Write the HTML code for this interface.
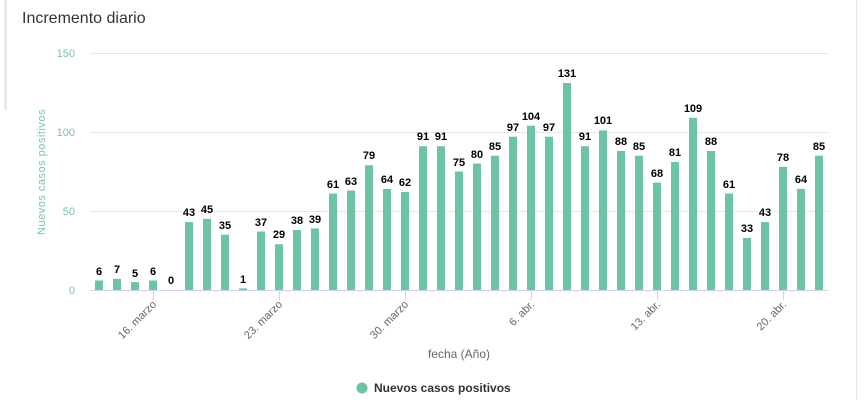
<!DOCTYPE html>
<html><head><meta charset="utf-8"><style>
body{margin:0;background:#fff;width:864px;height:400px;overflow:hidden;font-family:"Liberation Sans",sans-serif}
</style></head><body>
<svg width="864" height="400" xmlns="http://www.w3.org/2000/svg" font-family="Liberation Sans, sans-serif">
<line x1="5.5" y1="0" x2="5.5" y2="110" stroke="#dde3ea" stroke-width="2"/>
<line x1="856.5" y1="0" x2="856.5" y2="400" stroke="#e6e6e6" stroke-width="1"/>
<text x="22" y="23" font-size="16" fill="#333">Incremento diario</text>
<g stroke="#e6e6e6" stroke-width="1">
<line x1="90" y1="53.5" x2="828" y2="53.5"/>
<line x1="90" y1="132.5" x2="828" y2="132.5"/>
<line x1="90" y1="211.5" x2="828" y2="211.5"/>
</g>
<line x1="90" y1="290.5" x2="828" y2="290.5" stroke="#ccd6eb"/>
<g font-size="11" fill="#7cc4a4" text-anchor="end">
<text x="75" y="57">150</text><text x="75" y="136">100</text><text x="75" y="215">50</text><text x="75" y="294">0</text>
</g>
<text transform="translate(45,172) rotate(-90)" font-size="11" fill="#7cc4a4" text-anchor="middle" letter-spacing="0.5">Nuevos casos positivos</text>
<g fill="#6cc4a4">
<rect x="95" y="280.5" width="8" height="9.5"/><rect x="113" y="278.9" width="8" height="11.1"/><rect x="131" y="282.1" width="8" height="7.9"/><rect x="149" y="280.5" width="8" height="9.5"/>
<rect x="185" y="222.1" width="8" height="67.9"/><rect x="203" y="218.9" width="8" height="71.1"/><rect x="221" y="234.7" width="8" height="55.3"/><rect x="239" y="288.4" width="8" height="1.6"/>
<rect x="257" y="231.5" width="8" height="58.5"/><rect x="275" y="244.2" width="8" height="45.8"/><rect x="293" y="230" width="8" height="60"/><rect x="311" y="228.4" width="8" height="61.6"/>
<rect x="329" y="193.6" width="8" height="96.4"/><rect x="347" y="190.5" width="8" height="99.5"/><rect x="365" y="165.2" width="8" height="124.8"/><rect x="383" y="188.9" width="8" height="101.1"/>
<rect x="401" y="192" width="8" height="98"/><rect x="419" y="146.2" width="8" height="143.8"/><rect x="437" y="146.2" width="8" height="143.8"/><rect x="455" y="171.5" width="8" height="118.5"/>
<rect x="473" y="163.6" width="8" height="126.4"/><rect x="491" y="155.7" width="8" height="134.3"/><rect x="509" y="136.7" width="8" height="153.3"/><rect x="527" y="125.7" width="8" height="164.3"/>
<rect x="545" y="136.7" width="8" height="153.3"/><rect x="563" y="83" width="8" height="207"/><rect x="581" y="146.2" width="8" height="143.8"/><rect x="599" y="130.4" width="8" height="159.6"/>
<rect x="617" y="151" width="8" height="139"/><rect x="635" y="155.7" width="8" height="134.3"/><rect x="653" y="182.6" width="8" height="107.4"/><rect x="671" y="162" width="8" height="128"/>
<rect x="689" y="117.8" width="8" height="172.2"/><rect x="707" y="151" width="8" height="139"/><rect x="725" y="193.6" width="8" height="96.4"/><rect x="743" y="237.9" width="8" height="52.1"/>
<rect x="761" y="222.1" width="8" height="67.9"/><rect x="779" y="166.8" width="8" height="123.2"/><rect x="797" y="188.9" width="8" height="101.1"/><rect x="815" y="155.7" width="8" height="134.3"/>
</g>
<g font-size="11" font-weight="bold" fill="#000" text-anchor="middle">
<text x="99" y="275">6</text><text x="117" y="273">7</text><text x="135" y="277">5</text><text x="153" y="275">6</text><text x="171" y="284">0</text>
<text x="189" y="216">43</text><text x="207" y="213">45</text><text x="225" y="229">35</text><text x="243" y="283">1</text>
<text x="261" y="226">37</text><text x="279" y="238">29</text><text x="297" y="224">38</text><text x="315" y="223">39</text>
<text x="333" y="188">61</text><text x="351" y="185">63</text><text x="369" y="159">79</text><text x="387" y="183">64</text>
<text x="405" y="186">62</text><text x="423" y="140">91</text><text x="441" y="140">91</text><text x="459" y="166">75</text>
<text x="477" y="158">80</text><text x="495" y="150">85</text><text x="513" y="131">97</text><text x="531" y="120">104</text>
<text x="549" y="131">97</text><text x="567" y="77">131</text><text x="585" y="140">91</text><text x="603" y="124">101</text>
<text x="621" y="145">88</text><text x="639" y="150">85</text><text x="657" y="177">68</text><text x="675" y="156">81</text>
<text x="693" y="112">109</text><text x="711" y="145">88</text><text x="729" y="188">61</text><text x="747" y="232">33</text>
<text x="765" y="216">43</text><text x="783" y="161">78</text><text x="801" y="183">64</text><text x="819" y="150">85</text>
</g>
<g stroke="#ccd6eb">
<line x1="153.5" y1="290" x2="153.5" y2="300"/><line x1="279.5" y1="290" x2="279.5" y2="300"/><line x1="405.5" y1="290" x2="405.5" y2="300"/>
<line x1="531.5" y1="290" x2="531.5" y2="300"/><line x1="657.5" y1="290" x2="657.5" y2="300"/><line x1="783.5" y1="290" x2="783.5" y2="300"/>
</g>
<g font-size="11" fill="#666" text-anchor="end">
<text transform="translate(157,305) rotate(-45)">16. marzo</text>
<text transform="translate(283,305) rotate(-45)">23. marzo</text>
<text transform="translate(409,305) rotate(-45)">30. marzo</text>
<text transform="translate(535,305) rotate(-45)">6. abr.</text>
<text transform="translate(661,305) rotate(-45)">13. abr.</text>
<text transform="translate(787,305) rotate(-45)">20. abr.</text>
</g>
<text x="459" y="358" font-size="12" fill="#666" text-anchor="middle">fecha (Año)</text>
<circle cx="362" cy="388" r="5.5" fill="#6cc4a4"/>
<text x="374" y="392" font-size="12" font-weight="bold" fill="#333">Nuevos casos positivos</text>
</svg>
</body></html>
